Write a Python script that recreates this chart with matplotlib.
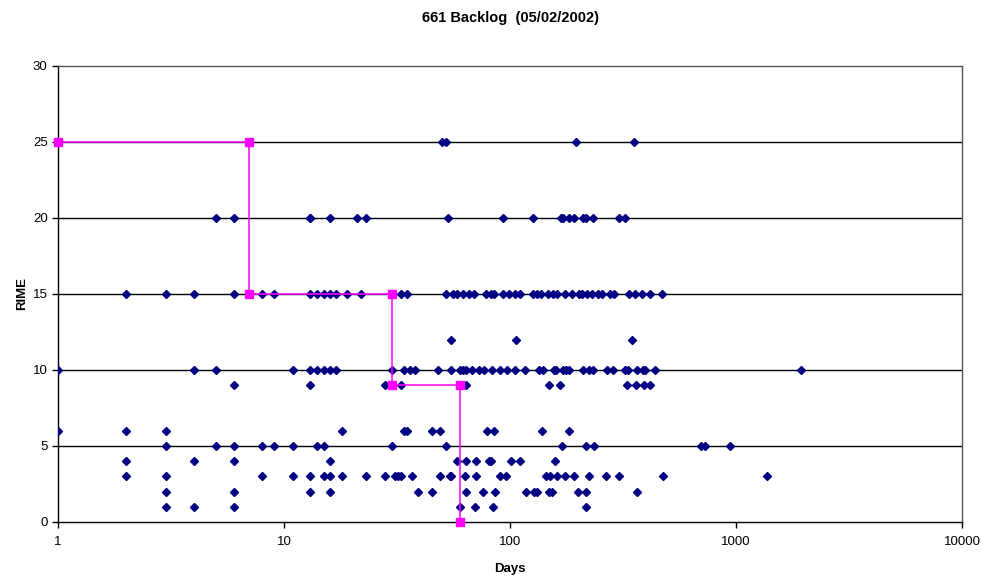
import matplotlib
matplotlib.use("Agg")
import matplotlib.pyplot as plt
from matplotlib.ticker import FixedLocator, FixedFormatter, NullLocator

plt.rcParams['font.family'] = ['Liberation Sans', 'DejaVu Sans']

# ---- data (days for each RIME level) ----
days_r25 = [50, 52, 196, 355]
days_r20 = [5, 6, 13, 13, 16, 21, 23, 53, 93, 126, 168, 171, 183, 191, 210, 217, 232, 304, 323]
days_r15 = [2, 3, 4, 6, 8, 9, 13, 14, 15, 16, 17, 19, 22, 33, 35, 52, 56, 58, 62, 66, 69, 78, 82,
            85, 93, 99, 105, 111, 126, 132, 137, 147, 155, 161, 175, 188, 203, 208, 220, 230, 246,
            255, 277, 289, 337, 356, 383, 417, 472]
days_r12 = [55, 106, 348]
days_r10 = [1, 4, 5, 11, 13, 14, 15, 16, 17, 30, 34, 36, 38, 48, 55, 60, 62, 64, 68, 73, 77, 83,
            90, 97, 105, 117, 134, 140, 157, 160, 171, 177, 182, 211, 224, 234, 270, 287, 324,
            334, 364, 387, 396, 439, 1940]
days_r9 = [6, 13, 28, 29, 33, 64, 149, 167, 331, 361, 393, 418]
days_r6 = [1, 2, 3, 18, 34, 35, 45, 49, 79, 85, 138, 182]
days_r5 = [3, 5, 6, 8, 9, 11, 14, 15, 30, 52, 169, 216, 235, 703, 729, 944]
days_r4 = [2, 4, 6, 16, 58, 64, 71, 81, 82, 101, 111, 158]
days_r3 = [2, 3, 8, 11, 13, 15, 16, 18, 23, 28, 31, 32, 33, 37, 49, 54, 55, 63, 71, 90, 96, 144,
           151, 161, 176, 191, 224, 266, 305, 473, 1376]
days_r2 = [3, 6, 13, 16, 39, 45, 64, 76, 86, 118, 128, 132, 149, 153, 199, 218, 364]
days_r1 = [3, 4, 6, 60, 70, 84, 216]

levels = [25, 20, 15, 12, 10, 9, 6, 5, 4, 3, 2, 1]
days_by_level = [days_r25, days_r20, days_r15, days_r12, days_r10, days_r9, days_r6,
                 days_r5, days_r4, days_r3, days_r2, days_r1]

step_days = [1, 7, 7, 30, 30, 60, 60]
step_rime = [25, 25, 15, 15, 9, 9, 0]

x_ticks = [1, 10, 100, 1000, 10000]
x_labels = ['1', '10', '100', '1000', '10000']
y_ticks = [0, 5, 10, 15, 20, 25, 30]

# ---- figure ----
fig = plt.figure(figsize=(9.82, 5.79), dpi=100)
ax = fig.add_axes([58/982, 1-522/579, (962-58)/982, (522-66)/579])

for lvl, dl in zip(levels, days_by_level):
    ax.plot(dl, [lvl]*len(dl), linestyle='none', marker='D', markersize=4.4,
            color='#000080', zorder=3)

ax.plot(step_days, step_rime, color='#FF00FF', lw=1.1, marker='s', markersize=6,
        zorder=4, clip_on=False)

ax.set_xscale('log')
ax.set_xlim(1, 10000)
ax.set_ylim(0, 30)

ax.xaxis.set_major_locator(FixedLocator(x_ticks))
ax.xaxis.set_major_formatter(FixedFormatter(x_labels))
ax.xaxis.set_minor_locator(NullLocator())
ax.set_yticks(y_ticks)

for y in y_ticks[1:-1]:
    ax.axhline(y, color='black', lw=1.0, zorder=1)

for s in ax.spines.values():
    s.set_color('black')
    s.set_linewidth(1.0)
ax.spines['top'].set_color('#555555')
ax.spines['right'].set_color('#555555')

ax.tick_params(axis='both', direction='out', length=4, width=1, labelsize=9.5, color='black')
ax.tick_params(axis='x', pad=6)

ax.set_title('661 Backlog  (05/02/2002)', fontsize=10.5, fontweight='bold', pad=32)
ax.set_xlabel('Days', fontsize=9.5, fontweight='bold', labelpad=11)
ax.set_ylabel('RIME', fontsize=9.5, fontweight='bold', labelpad=3)

fig.savefig('out.png', dpi=100, facecolor='white')
